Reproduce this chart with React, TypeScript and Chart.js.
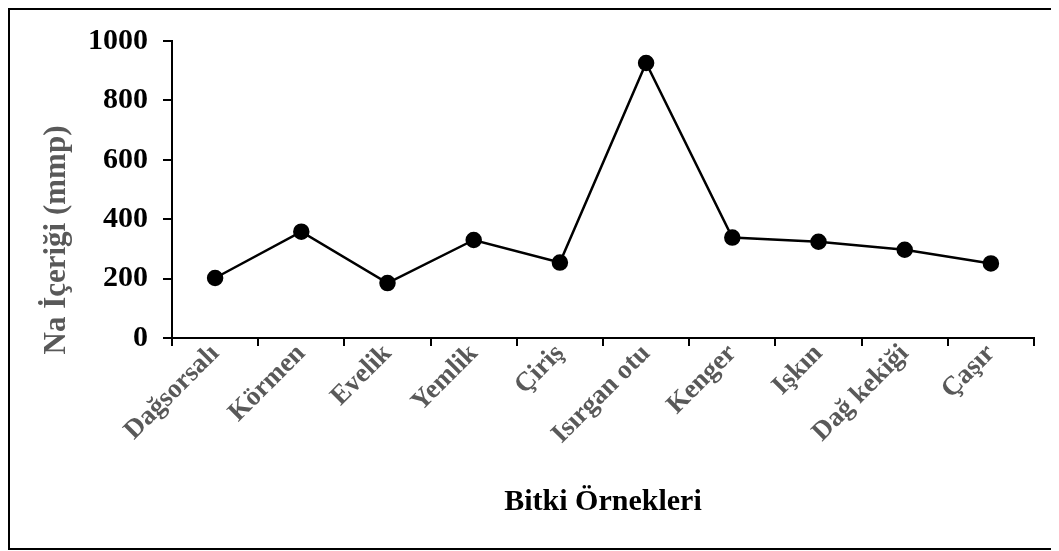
import React, { useEffect, useRef } from "react";
import { Chart, registerables } from "chart.js";

Chart.register(...registerables);

const categories: string[] = [
  "Dağsorsalı",
  "Körmen",
  "Evelik",
  "Yemlik",
  "Çiriş",
  "Isırgan otu",
  "Kenger",
  "Işkın",
  "Dağ kekiği",
  "Çaşır",
];
const naValues: number[] = [202, 358, 185, 330, 254, 926, 338, 324, 297, 251];
const yTicks: number[] = [0, 200, 400, 600, 800, 1000];
const yTitle = "Na İçeriği (mmp)";
const xTitle = "Bitki Örnekleri";

const FONT = "'Liberation Serif', 'Times New Roman', serif";
const GRAY = "#595959";

const W = 1043;
const H = 542;

const framePlugin = {
  id: "frame",
  afterDraw(chart: any) {
    const { ctx, chartArea } = chart;
    ctx.save();
    ctx.strokeStyle = "#000";
    ctx.lineWidth = 2;
    ctx.beginPath();
    ctx.moveTo(W + 10, 1);
    ctx.lineTo(1, 1);
    ctx.lineTo(1, H - 1);
    ctx.lineTo(W + 10, H - 1);
    ctx.stroke();
    // rotated y title
    ctx.fillStyle = GRAY;
    ctx.font = `bold 31px ${FONT}`;
    ctx.textAlign = "center";
    ctx.textBaseline = "middle";
    ctx.translate(49, chartArea.bottom - 98);
    ctx.rotate(-Math.PI / 2);
    ctx.fillText(yTitle, 0, 0);
    ctx.restore();
  },
};

export default function App() {
  const ref = useRef<HTMLCanvasElement | null>(null);

  useEffect(() => {
    if (!ref.current) return;
    const chart = new Chart(ref.current, {
      type: "line",
      data: {
        labels: categories,
        datasets: [
          {
            data: naValues,
            borderColor: "#000",
            backgroundColor: "#000",
            borderWidth: 2.5,
            pointRadius: 7,
            pointHoverRadius: 7,
            pointBackgroundColor: "#000",
            pointBorderColor: "#000",
            tension: 0,
          },
        ],
      },
      options: {
        responsive: false,
        animation: false,
        layout: { padding: { left: 0, top: 28, right: 17, bottom: 0 } },
        plugins: {
          legend: { display: false },
          tooltip: { enabled: false },
          title: { display: false },
        },
        scales: {
          x: {
            type: "category",
            offset: true,
            grid: {
              display: true,
              offset: true,
              drawOnChartArea: false,
              drawTicks: true,
              tickLength: 8,
              color: "#000",
              lineWidth: 2,
            },
            border: { display: true, color: "#000", width: 2 },
            ticks: {
              color: GRAY,
              font: { family: FONT, size: 27, weight: "bold" },
              maxRotation: 45,
              minRotation: 45,
              padding: -8,
              autoSkip: false,
            },
            title: {
              display: true,
              text: xTitle,
              color: "#000",
              font: { family: FONT, size: 30, weight: "bold" },
              padding: { top: 0, bottom: 30 },
            },
            afterFit(scale: any) {
              scale.height = H - 330;
            },
          },
          y: {
            min: 0,
            max: 1000,
            afterBuildTicks(scale: any) {
              scale.ticks = yTicks.map((v) => ({ value: v }));
            },
            grid: {
              display: true,
              drawOnChartArea: false,
              drawTicks: true,
              tickLength: 9,
              color: "#000",
              lineWidth: 2,
            },
            border: { display: true, color: "#000", width: 2 },
            ticks: {
              color: "#000",
              font: { family: FONT, size: 30, weight: "bold" },
              padding: 15,
              callback: (v: any) => String(v),
            },
            afterFit(scale: any) {
              scale.width = 164;
            },
          },
        },
      },
      plugins: [framePlugin],
    });
    return () => chart.destroy();
  }, []);

  return (
    <div style={{ width: W, height: H }}>
      <canvas ref={ref} width={W} height={H} style={{ display: "block" }} />
    </div>
  );
}
